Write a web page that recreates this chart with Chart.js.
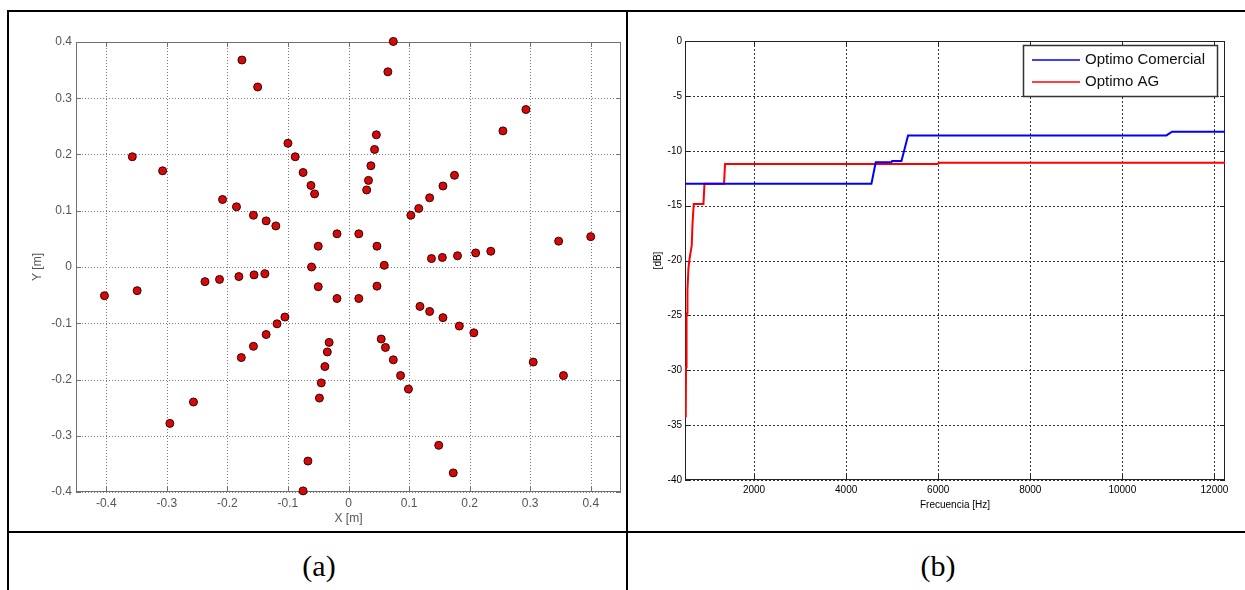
<!DOCTYPE html>
<html><head><meta charset="utf-8">
<script src="https://cdn.jsdelivr.net/npm/chart.js@4.4.0/dist/chart.umd.min.js"></script>
<style>
html,body{margin:0;padding:0;background:#fff;}
body{width:1245px;height:590px;position:relative;overflow:hidden;}
.ln{position:absolute;background:#000;z-index:5;}
.wrap{position:absolute;top:12px;width:617px;height:519px;}
#wa{left:9px;}
#wb{left:628px;}
.lab{position:absolute;top:548px;width:120px;text-align:center;font-family:'Liberation Serif','Times New Roman',serif;font-size:30px;line-height:36px;color:#000;}
</style>
</head><body>
<div class="wrap" id="wa"><canvas id="ca"></canvas></div>
<div class="wrap" id="wb"><canvas id="cb"></canvas></div>
<div class="ln" style="left:7px;top:10px;width:1238px;height:2px"></div>
<div class="ln" style="left:7px;top:10px;width:2px;height:580px"></div>
<div class="ln" style="left:626px;top:10px;width:2px;height:580px"></div>
<div class="ln" style="left:7px;top:531px;width:1238px;height:2px"></div>
<div class="lab" style="left:259px">(a)</div>
<div class="lab" style="left:878px">(b)</div>
<script>
// ---------- Data (a): microphone positions ----------
const micX = [-0.176,-0.150,-0.357,-0.307,-0.100,-0.088,-0.075,-0.062,-0.056,-0.208,-0.185,-0.157,-0.136,-0.120,-0.050,-0.061,-0.050,-0.403,-0.349,-0.237,-0.213,-0.181,-0.156,-0.138,
  0.074,0.065,0.293,0.255,0.046,0.043,0.037,0.033,0.030,0.175,0.156,0.134,0.116,0.103,-0.019,0.017,0.047,0.347,0.400,0.137,0.155,0.180,0.210,0.235,0.059,0.047,-0.019,0.017,
  -0.105,-0.118,-0.136,-0.157,-0.177,-0.256,-0.295,-0.067,-0.075,0.118,0.134,0.156,0.183,0.207,-0.032,-0.035,-0.039,-0.045,-0.048,0.054,0.061,0.074,0.086,0.099,0.305,0.355,0.149,0.173];
const micY = [0.368,0.320,0.196,0.171,0.220,0.196,0.168,0.145,0.130,0.120,0.107,0.092,0.082,0.073,0.037,0.000,-0.035,-0.051,-0.042,-0.026,-0.022,-0.017,-0.014,-0.012,
  0.401,0.347,0.280,0.242,0.235,0.209,0.180,0.154,0.137,0.163,0.144,0.123,0.104,0.092,0.059,0.059,0.037,0.046,0.054,0.015,0.017,0.020,0.025,0.028,0.003,-0.034,-0.056,-0.056,
  -0.089,-0.101,-0.120,-0.141,-0.161,-0.240,-0.278,-0.345,-0.398,-0.070,-0.079,-0.090,-0.105,-0.117,-0.134,-0.151,-0.177,-0.206,-0.233,-0.128,-0.143,-0.165,-0.193,-0.217,-0.169,-0.193,-0.317,-0.366];
const aXTicks = [-0.4,-0.3,-0.2,-0.1,0,0.1,0.2,0.3,0.4];
const aXTickLabels = ['-0.4','-0.3','-0.2','-0.1','0','0.1','0.2','0.3','0.4'];
const aYTicks = [0.4,0.3,0.2,0.1,0,-0.1,-0.2,-0.3,-0.4];
const aYTickLabels = ['0.4','0.3','0.2','0.1','0','-0.1','-0.2','-0.3','-0.4'];

// ---------- Data (b): frequency response ----------
const seriesNames = ['Optimo Comercial','Optimo AG'];
const seriesColors = ['#0000ff','#ff0000'];
const blueFreq = [500,4550,4643,4984,5000,5202,5345,10957,11080,12230];
const blueDb   = [-13.0,-13.0,-11.05,-11.05,-10.93,-10.93,-8.6,-8.6,-8.27,-8.27];
const redFreq  = [516,522,530,538,545,553,575,597,647,662,690,901,923,1348,1370,5980,6030,12230];
const redDb    = [-34.3,-29.7,-29.5,-25.0,-24.8,-22.7,-20.7,-19.9,-18.6,-16.75,-14.85,-14.85,-13.0,-13.0,-11.2,-11.2,-11.1,-11.1];
const bXTicks = [2000,4000,6000,8000,10000,12000];
const bXTickLabels = ['2000','4000','6000','8000','10000','12000'];
const bYTicks = [0,-5,-10,-15,-20,-25,-30,-35,-40];
const bYTickLabels = ['0','-5','-10','-15','-20','-25','-30','-35','-40'];

Chart.defaults.font.family = "'Liberation Sans', Arial, sans-serif";
Chart.defaults.animation = false;

function framePlugin(id, gridColor, dash, frameColor){
  return {
    id,
    beforeDatasetsDraw(chart){
      const {ctx, chartArea:a, scales:{x,y}} = chart;
      ctx.save();
      ctx.lineWidth = 1;
      ctx.strokeStyle = gridColor;
      ctx.setLineDash(dash);
      ctx.beginPath();
      x.ticks.forEach(t=>{const p=Math.round(x.getPixelForValue(t.value))+0.5; ctx.moveTo(p,a.top); ctx.lineTo(p,a.bottom);});
      y.ticks.forEach(t=>{const p=Math.round(y.getPixelForValue(t.value))+0.5; ctx.moveTo(a.left,p); ctx.lineTo(a.right,p);});
      ctx.stroke();
      ctx.setLineDash([]);
      ctx.strokeStyle = frameColor;
      ctx.beginPath();
      x.ticks.forEach(t=>{const p=Math.round(x.getPixelForValue(t.value))+0.5; ctx.moveTo(p,a.bottom); ctx.lineTo(p,a.bottom-5); ctx.moveTo(p,a.top); ctx.lineTo(p,a.top+5);});
      y.ticks.forEach(t=>{const p=Math.round(y.getPixelForValue(t.value))+0.5; ctx.moveTo(a.left,p); ctx.lineTo(a.left+5,p); ctx.moveTo(a.right,p); ctx.lineTo(a.right-5,p);});
      ctx.stroke();
      ctx.strokeRect(Math.round(a.left)+0.5, Math.round(a.top)+0.5, Math.round(a.right-a.left)-1, Math.round(a.bottom-a.top)-1);
      ctx.restore();
    }
  };
}

// ---------- Chart (a) ----------
new Chart(document.getElementById('ca'), {
  type: 'scatter',
  data: { datasets: [{
    data: micX.map((v,i)=>({x:v, y:micY[i]})),
    pointRadius: 4, pointHoverRadius: 4,
    backgroundColor: '#d40a0a', borderColor: '#3a0000', borderWidth: 1,
    clip: false
  }]},
  options: {
    responsive: true, maintainAspectRatio: false,
    layout: { padding: {top: 30, right: 3, left: 0, bottom: 0} },
    plugins: { legend: {display:false}, tooltip: {enabled:false} },
    scales: {
      x: {
        type: 'linear', min: -0.45, max: 0.45,
        afterBuildTicks: s => { s.ticks = aXTicks.map(v=>({value:v})); },
        afterFit: s => { s.height = 39; },
        grid: {display:false, drawTicks:false}, border: {display:false},
        ticks: { autoSkip:false, maxRotation:0, padding:4, color:'#555', font:{size:12},
          callback: (v,i)=>aXTickLabels[i] },
        title: { display:true, text:'X [m]', color:'#555', font:{size:12}, padding:{top:0,bottom:5} }
      },
      y: {
        type: 'linear', min: -0.4, max: 0.4,
        afterBuildTicks: s => { s.ticks = aYTicks.map(v=>({value:v})); },
        afterFit: s => { s.width = 67; },
        grid: {display:false, drawTicks:false}, border: {display:false},
        ticks: { autoSkip:false, padding:4, color:'#555', font:{size:12},
          callback: (v,i)=>aYTickLabels[i] },
        title: { display:true, text:'Y [m]', color:'#555', font:{size:12}, padding:{top:21,bottom:0} }
      }
    }
  },
  plugins: [framePlugin('frameA', '#7a7a7a', [1,2], '#707070')]
});

// ---------- Chart (b) ----------
const legendB = {
  id: 'legendB',
  afterDatasetsDraw(chart){
    const {ctx, chartArea:a} = chart;
    const w = 194, h = 51;
    const L = Math.round(a.right - 8 - w), T = Math.round(a.top + 4);
    ctx.save();
    ctx.fillStyle = '#fff';
    ctx.fillRect(L, T, w, h);
    ctx.strokeStyle = '#333'; ctx.lineWidth = 1.5;
    ctx.strokeRect(L+0.5, T+0.5, w, h);
    ctx.font = "15px 'Liberation Sans', Arial, sans-serif";
    ctx.textBaseline = 'middle';
    chart.data.datasets.forEach((ds,i)=>{
      const yy = T + 15 + i*22;
      ctx.strokeStyle = seriesColors[i]; ctx.lineWidth = 1.3;
      ctx.beginPath(); ctx.moveTo(L+9, yy); ctx.lineTo(L+57, yy); ctx.stroke();
      ctx.fillStyle = '#111';
      ctx.fillText(ds.label, L+62, yy);
    });
    ctx.restore();
  }
};

new Chart(document.getElementById('cb'), {
  type: 'scatter',
  data: { datasets: [
    { label: seriesNames[0], data: blueFreq.map((v,i)=>({x:v,y:blueDb[i]})), showLine:true, pointRadius:0,
      borderColor:seriesColors[0], borderWidth:2, backgroundColor:seriesColors[0] },
    { label: seriesNames[1], data: redFreq.map((v,i)=>({x:v,y:redDb[i]})), showLine:true, pointRadius:0,
      borderColor:seriesColors[1], borderWidth:2, backgroundColor:seriesColors[1] }
  ]},
  options: {
    responsive: true, maintainAspectRatio: false,
    layout: { padding: {top: 29, right: 20, left: 0, bottom: 0} },
    plugins: { legend: {display:false}, tooltip: {enabled:false} },
    scales: {
      x: {
        type: 'linear', min: 500, max: 12230,
        afterBuildTicks: s => { s.ticks = bXTicks.map(v=>({value:v})); },
        afterFit: s => { s.height = 51; },
        grid: {display:false, drawTicks:false}, border: {display:false},
        ticks: { autoSkip:false, maxRotation:0, padding:4, color:'#000', font:{size:10},
          callback: (v,i)=>bXTickLabels[i] },
        title: { display:true, text:'Frecuencia [Hz]', color:'#000', font:{size:10}, padding:{top:0,bottom:20} }
      },
      y: {
        type: 'linear', min: -40, max: 0,
        afterBuildTicks: s => { s.ticks = bYTicks.map(v=>({value:v})); },
        afterFit: s => { s.width = 57; },
        grid: {display:false, drawTicks:false}, border: {display:false},
        ticks: { autoSkip:false, padding:3, color:'#000', font:{size:10},
          callback: (v,i)=>bYTickLabels[i] },
        title: { display:true, text:'[dB]', color:'#000', font:{size:10}, padding:{top:24,bottom:0} }
      }
    }
  },
  plugins: [framePlugin('frameB', '#333', [2,2], '#222'), legendB]
});
</script>
</body></html>
